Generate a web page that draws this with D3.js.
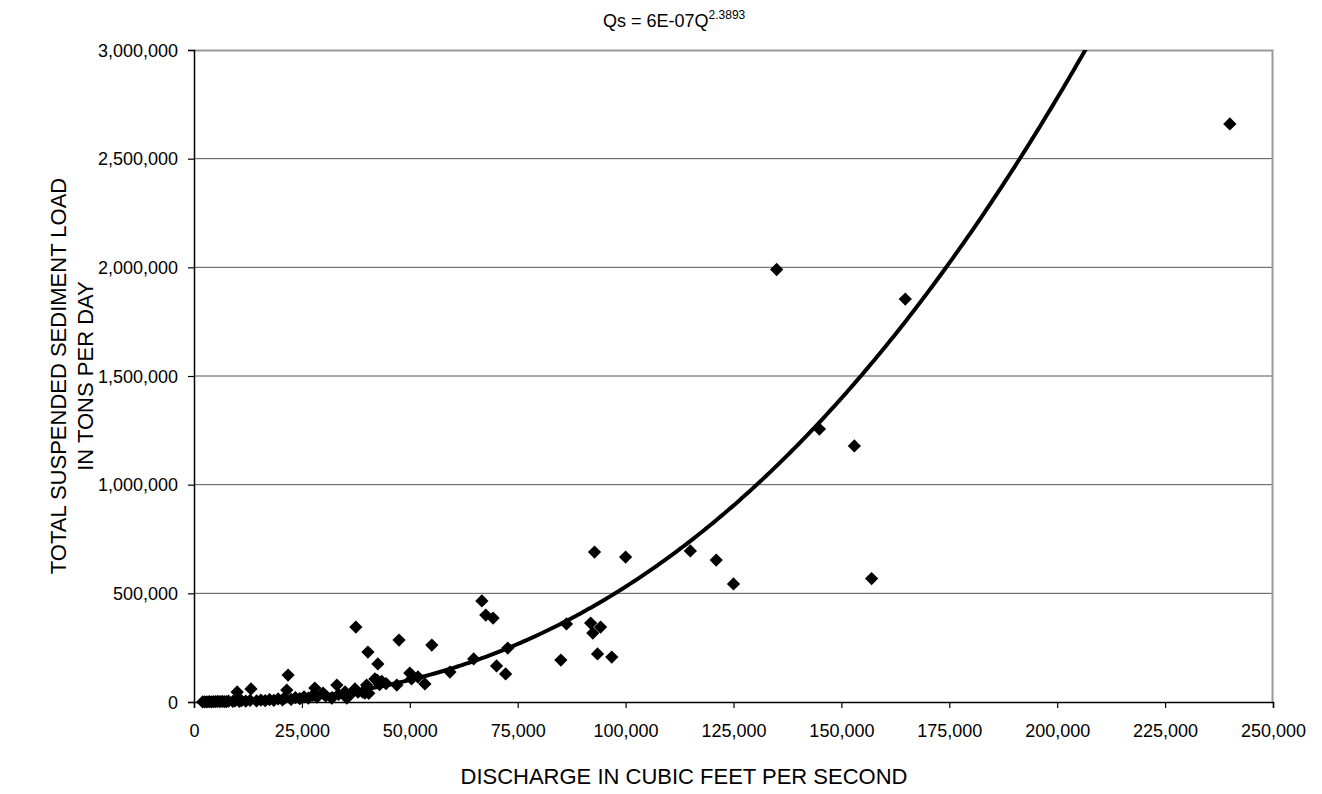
<!DOCTYPE html>
<html lang="en">
<head>
<meta charset="utf-8">
<title>Sediment load vs discharge</title>
<script src="https://d3js.org/d3.v7.min.js"></script>
<style>
  body { margin: 0; background: #fff; }
  text { font-family: Arial, "Liberation Sans", sans-serif; fill: #000; }
</style>
</head>
<body>
<script>
// discharge (cfs) and total suspended sediment load (tons/day)
var discharge = [
  2000, 2500, 3000, 3500, 4000, 4500, 5000, 5500, 6000, 6500, 7000, 7500, 8000, 9000, 9500,
  10000, 10500, 11000, 12000, 13000, 13200, 14500, 15500, 16500, 17500, 18500, 19500, 20500,
  21000, 21500, 21800, 22500, 23500, 24500, 25500, 26500, 27500, 28000, 28500, 29900, 30500,
  31900, 32000, 33100, 33500, 35000, 35400, 36000, 37300, 37500, 38000, 39100, 39600, 40000,
  40300, 40500, 41900, 42400, 42600, 43000, 43500, 44500, 47000, 47500, 50000, 50400, 51900,
  53500, 55100, 59300, 64800, 66700, 67600, 69300, 70100, 72200, 72700, 85000, 86300, 91900,
  92400, 92800, 93500, 94200, 96800, 100000, 115000, 121000, 125000, 135000, 144900, 153000,
  157000, 164800, 240000
];
var sedimentLoad = [
  500, 1000, 800, 1500, 600, 2000, 1200, 2500, 1800, 3000, 2200, 1500, 3500, 2500, 5000,
  46000, 3000, 6000, 4000, 7000, 60000, 5000, 9000, 6000, 11000, 8000, 14000, 10000,
  18000, 55000, 124000, 12000, 20000, 15000, 24000, 18000, 30000, 64000, 22000, 41000, 28000,
  18000, 20000, 78000, 35000, 46000, 18000, 30000, 60000, 345000, 45000, 46000, 41000, 78000,
  230000, 40000, 106000, 101000, 175000, 80000, 95000, 85000, 78000, 285000, 133000, 106000, 115000,
  83000, 262000, 138000, 198000, 465000, 400000, 386000, 166000, 129000, 248000, 193000, 359000, 363000,
  317000, 690000, 221000, 345000, 207000, 667000, 695000, 653000, 543000, 1990000, 1256000, 1178000,
  568000, 1854000, 2660000
];

// power trendline Qs = a * Q^b (from the chart title)
var trendA = 6e-7;
var trendB = 2.3893;

var xTicks = [0, 25000, 50000, 75000, 100000, 125000, 150000, 175000, 200000, 225000, 250000];
var yTicks = [0, 500000, 1000000, 1500000, 2000000, 2500000, 3000000];

var W = 1322, H = 794;
var margin = {left: 194, top: 50, right: 49, bottom: 92};
var pw = W - margin.left - margin.right;
var ph = H - margin.top - margin.bottom;

var svg = d3.select("body").append("svg")
  .attr("width", W)
  .attr("height", H);

var x = d3.scaleLinear().domain([0, 250000]).range([0, pw]);
var y = d3.scaleLinear().domain([0, 3000000]).range([ph, 0]);
var fmt = d3.format(",");

var g = svg.append("g").attr("transform", "translate(" + margin.left + "," + margin.top + ")");

svg.append("defs").append("clipPath").attr("id", "plotclip")
  .append("rect").attr("x", 0).attr("y", 0).attr("width", pw).attr("height", ph);

// gridlines
g.selectAll("line.grid")
  .data(yTicks.slice(1, -1))
  .enter().append("line")
  .attr("class", "grid")
  .attr("x1", 0).attr("x2", pw)
  .attr("y1", function(d) { return y(d); })
  .attr("y2", function(d) { return y(d); })
  .attr("stroke", "#555")
  .attr("stroke-width", 1);

// plot area border (top / right)
g.append("path")
  .attr("d", "M0,0.5H" + (pw - 0.5) + "V" + ph)
  .attr("fill", "none")
  .attr("stroke", "#999")
  .attr("stroke-width", 2);

// axes
var xAxis = d3.axisBottom(x).tickValues(xTicks).tickFormat(fmt).tickSize(6).tickPadding(16);
var yAxis = d3.axisLeft(y).tickValues(yTicks).tickFormat(fmt).tickSize(6).tickPadding(10);

var gx = g.append("g").attr("transform", "translate(0," + ph + ")").call(xAxis);
var gy = g.append("g").call(yAxis);
[gx, gy].forEach(function(a) {
  a.select(".domain").attr("stroke", "#000").attr("stroke-width", 1.5);
  a.selectAll(".tick line").attr("stroke", "#000").attr("stroke-width", 1.2);
  a.selectAll(".tick text").attr("font-size", "18px").attr("font-family", "Arial, 'Liberation Sans', sans-serif").attr("fill", "#000");
});
gy.selectAll(".tick text").attr("dy", "0.35em");

// data points (diamonds)
var pts = discharge.map(function(q, i) { return {q: q, s: sedimentLoad[i]}; });
var diamond = d3.symbol().type(d3.symbolSquare).size(88);
g.append("g")
  .selectAll("path.pt")
  .data(pts)
  .enter().append("path")
  .attr("class", "pt")
  .attr("d", diamond)
  .attr("transform", function(d) { return "translate(" + x(d.q) + "," + y(d.s) + ") rotate(45)"; })
  .attr("fill", "#000");

// trendline
var qMin = d3.min(discharge), qMax = d3.max(discharge);
var trend = d3.range(0, 401).map(function(i) {
  var q = qMin + (qMax - qMin) * i / 400;
  return [q, trendA * Math.pow(q, trendB)];
});
g.append("path")
  .datum(trend)
  .attr("clip-path", "url(#plotclip)")
  .attr("fill", "none")
  .attr("stroke", "#000")
  .attr("stroke-width", 4)
  .attr("d", d3.line().x(function(d) { return x(d[0]); }).y(function(d) { return y(d[1]); }));

// title
var title = svg.append("text")
  .attr("x", 603).attr("y", 27)
  .attr("font-size", "18px");
title.append("tspan").text("Qs = 6E-07Q");
title.append("tspan").attr("dy", -8).attr("font-size", "12px").text("2.3893");

// axis titles
svg.append("text")
  .attr("x", 684).attr("y", 784)
  .attr("text-anchor", "middle")
  .attr("font-size", "22px")
  .text("DISCHARGE IN CUBIC FEET PER SECOND");

var yt = svg.append("text")
  .attr("transform", "translate(66," + (margin.top + ph / 2) + ") rotate(-90)")
  .attr("text-anchor", "middle")
  .attr("font-size", "22px");
yt.append("tspan").attr("x", 0).attr("dy", 0).text("TOTAL SUSPENDED SEDIMENT LOAD");
yt.append("tspan").attr("x", 0).attr("dy", 27).text("IN TONS PER DAY");
</script>
</body>
</html>
